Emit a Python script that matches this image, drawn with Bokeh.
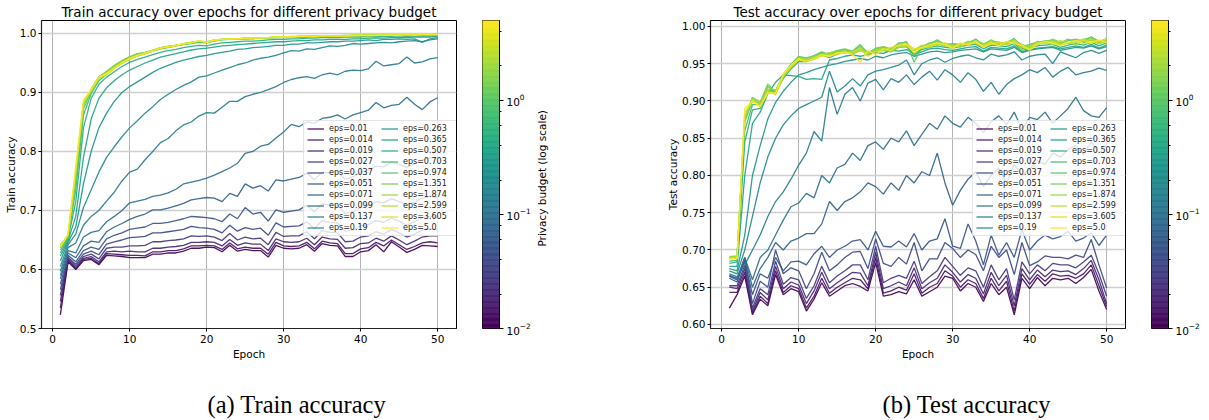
import math
from bokeh.plotting import figure
from bokeh.models import (LogTicker, Legend, LegendItem, Range1d, PrintfTickFormatter,
                          LinearAxis, FixedTicker, Title, CustomJSTickFormatter, LinearScale)
from bokeh.layouts import row
from bokeh.palettes import Viridis256
from bokeh.embed import file_html
from bokeh.resources import INLINE

FONT = "DejaVu Sans"

epochs = list(range(1, 51))
eps_values = [0.01, 0.014, 0.019, 0.027, 0.037, 0.051, 0.071, 0.099, 0.137, 0.19,
              0.263, 0.365, 0.507, 0.703, 0.974, 1.351, 1.874, 2.599, 3.605, 5.0]
eps_labels = ["eps=0.01", "eps=0.014", "eps=0.019", "eps=0.027", "eps=0.037",
              "eps=0.051", "eps=0.071", "eps=0.099", "eps=0.137", "eps=0.19",
              "eps=0.263", "eps=0.365", "eps=0.507", "eps=0.703", "eps=0.974",
              "eps=1.351", "eps=1.874", "eps=2.599", "eps=3.605", "eps=5.0"]
x_ticks = [0, 10, 20, 30, 40, 50]
train_y_ticks = [0.5, 0.6, 0.7, 0.8, 0.9, 1.0]
test_y_ticks = [0.60, 0.65, 0.70, 0.75, 0.80, 0.85, 0.90, 0.95, 1.00]

# ---- Train accuracy (per mille) ----
tr_001 = [523,613,600,615,617,608,624,623,622,620, 620,620,626,626,628,628,631,636,636,638,
          637,630,641,631,634,632,632,621,641,636, 635,636,642,631,644,641,640,622,622,630,
          632,642,630,647,638,629,634,641,640,639]
tr_0014 = [535,615,601,617,619,610,627,626,625,624, 624,623,630,630,632,632,635,640,640,641,
           640,634,645,635,638,636,636,626,646,640, 639,640,646,635,648,645,644,627,627,635,
           637,646,640,650,642,634,639,645,647,645]
tr_0019 = [546,617,603,619,622,613,630,631,630,631, 630,630,636,636,638,639,641,646,646,647,
           646,640,651,641,645,643,643,632,652,647, 646,647,653,642,655,652,651,636,637,644,
           645,653,648,657,650,642,648,655,657,657]
tr_0027 = [556,619,606,622,626,618,636,638,638,640, 640,641,647,647,649,650,652,657,656,657,
           655,649,661,650,655,652,653,642,663,656, 657,657,664,652,666,663,662,647,648,655,
           657,664,660,668,662,655,660,667,669,667]
tr_0037 = [566,621,609,626,631,625,643,647,650,654, 655,656,662,662,664,666,668,673,671,670,
           668,662,675,665,671,668,670,658,679,672, 673,674,681,669,683,680,679,665,667,674,
           676,683,680,687,682,675,681,688,690,688]
tr_0051 = [575,624,613,632,638,634,652,658,662,668, 670,672,678,678,680,683,686,690,689,688,
           686,681,694,686,705,694,697,682,701,697, 699,701,709,698,711,709,709,695,698,705,
           708,715,713,720,715,709,714,721,724,722]
tr_0071 = [584,628,620,640,648,646,664,672,678,685, 690,694,701,701,704,708,712,718,720,722,
           721,715,729,724,745,738,742,733,752,750, 753,756,763,752,765,764,766,753,757,765,
           768,775,774,782,778,773,779,786,789,790]
tr_0099 = [590,632,628,655,663,666,681,690,700,713, 716,719,724,726,730,736,745,748,751,755,
           760,766,772,780,797,800,809,812,823,833, 846,842,850,848,856,858,862,855,862,866,
           870,883,874,878,880,892,880,871,884,891]
tr_0137 = [597,637,645,675,690,700,716,731,750,765, 770,786,800,815,822,835,845,850,860,866,
           865,875,885,885,893,897,900,905,910,917, 922,925,927,924,930,933,930,936,938,937,
           940,953,945,947,949,960,950,952,957,959]
tr_019 = [605,642,660,705,735,765,790,808,825,840, 852,865,876,888,897,905,912,918,926,928,
          933,938,942,947,950,955,958,960,963,967, 971,970,974,973,976,979,978,980,983,982,
          983,984,985,984,986,987,988,986,989,991]
tr_0263 = [615,646,672,745,800,840,865,885,900,910, 918,926,934,941,946,951,955,958,961,963,
           966,968,970,973,974,976,977,978,980,980, 982,982,984,984,985,986,986,987,987,988,
           989,988,990,990,991,990,991,985,991,993]
tr_0365 = [623,649,690,790,855,890,908,920,930,938, 944,950,955,960,963,966,969,972,974,975,
           977,979,980,981,982,983,984,985,986,986, 987,988,988,989,989,990,990,990,991,991,
           992,992,992,993,993,993,994,994,994,995]
tr_0507 = [628,652,715,840,890,914,926,935,944,951, 956,960,964,968,971,973,976,978,980,979,
           982,984,985,986,987,987,988,989,990,990, 991,991,992,992,993,993,993,994,994,994,
           995,994,995,995,996,995,996,996,996,997]
tr_0703 = [633,654,735,862,898,920,931,941,950,957, 962,966,970,974,976,979,981,983,985,984,
           987,989,990,990,991,991,992,992,993,993, 993,994,994,995,994,995,995,995,996,996,
           996,996,997,997,997,996,997,997,998,998]
tr_0974 = [637,655,748,872,902,924,934,945,953,960, 965,968,972,976,978,980,982,985,986,986,
           988,990,990,991,991,992,993,993,993,994, 994,994,995,995,995,996,996,996,996,997,
           996,997,997,997,997,998,997,998,998,998]
tr_1351 = [640,656,758,878,905,926,936,946,954,961, 966,968,971,975,977,980,983,984,987,985,
           989,990,991,991,992,992,993,993,994,994, 994,995,995,995,996,996,996,996,997,997,
           997,997,997,998,997,998,998,998,998,998]
tr_1874 = [642,657,762,880,906,927,935,945,952,959, 964,967,971,975,978,980,982,985,987,985,
           989,990,991,991,992,993,993,993,994,994, 995,995,995,996,995,996,996,997,996,997,
           997,997,998,997,998,998,998,998,998,999]
tr_2599 = [641,658,765,882,904,924,933,942,949,956, 962,966,970,975,977,979,982,984,987,985,
           988,990,990,991,992,992,992,993,994,994, 994,995,995,996,996,996,996,996,997,997,
           997,997,997,998,998,998,998,998,998,998]
tr_3605 = [640,659,770,884,903,925,930,940,951,957, 962,966,970,976,978,979,982,985,987,986,
           988,990,990,991,991,993,992,993,993,994, 994,995,995,995,996,996,996,996,997,997,
           997,997,997,997,998,998,998,998,998,998]
tr_5 = [638,660,775,887,905,926,932,941,950,958, 963,967,971,975,977,980,983,984,988,985,
        989,990,991,991,992,992,993,993,994,994, 994,995,995,995,996,996,995,996,996,997,
        996,997,997,997,997,998,997,998,998,998]

# ---- Test accuracy (per mille) ----
te_001 = [622,640,665,613,634,625,667,640,648,644, 618,634,656,638,645,652,655,651,645,683,
          638,640,644,641,660,638,644,650,665,662, 645,655,650,631,655,640,650,613,662,648,
          663,652,662,660,662,655,663,674,645,620]
te_0014 = [643,643,670,615,638,628,672,643,652,648, 622,638,662,642,650,656,662,660,648,690,
           642,645,650,646,668,642,650,655,672,665, 650,660,655,635,662,645,658,618,668,654,
           667,658,668,665,666,662,668,680,652,624]
te_0019 = [650,648,675,618,643,633,678,648,657,653, 628,645,670,648,656,663,670,669,652,697,
           648,652,657,652,676,648,656,662,680,670, 657,667,662,641,670,652,666,625,675,660,
           673,664,673,671,672,667,675,686,660,628]
te_0027 = [652,652,680,622,648,640,685,654,663,660, 635,652,678,656,665,672,680,680,660,705,
           656,662,666,662,685,655,664,672,690,678, 666,676,672,650,680,660,675,633,684,668,
           680,672,682,680,680,676,684,693,668,638]
te_0037 = [662,657,688,628,658,650,700,668,676,672, 648,668,697,672,680,690,697,698,675,715,
           682,678,690,681,710,672,688,688,710,702, 690,700,694,672,705,690,700,667,710,679,
           684,692,690,690,688,693,690,714,680,649]
te_0051 = [665,660,685,640,668,662,690,672,684,685, 680,695,705,690,700,705,712,714,700,725,
           705,704,712,704,722,700,712,715,742,705, 702,735,712,680,720,693,710,690,727,700,
           712,720,715,718,725,712,716,723,706,720]
te_0071 = [666,662,690,650,675,690,710,700,712,716, 722,722,735,765,753,765,770,778,790,785,
           775,790,780,800,790,805,800,830,790,760, 780,795,805,785,800,810,790,815,800,808,
           820,815,830,825,835,840,828,845,830,840]
te_0099 = [665,660,690,660,690,700,720,740,758,763, 776,770,800,790,810,815,830,820,840,845,
           835,850,845,860,840,855,870,862,880,870, 865,878,870,858,872,880,868,885,862,878,
           875,885,870,880,890,905,887,880,878,891]
te_0137 = [668,664,680,700,720,745,765,778,795,814, 830,859,846,918,882,909,918,900,924,929,
           915,930,925,935,922,932,940,928,942,935, 925,938,929,913,925,909,922,930,935,942,
           938,945,932,940,945,935,938,940,944,941]
te_019 = [672,668,700,745,790,825,850,868,880,890, 895,900,905,940,912,920,930,920,935,940,
          942,945,948,955,935,950,955,958,952,957, 960,962,958,955,963,960,962,966,955,960,
          962,963,950,966,962,958,965,968,964,968]
te_0263 = [675,672,720,800,840,876,898,913,925,935, 938,942,945,948,950,953,955,957,955,960,
           958,962,964,965,960,963,966,967,965,966, 968,969,970,966,970,969,968,972,965,968,
           970,971,972,968,970,972,971,974,970,973]
te_0365 = [678,678,800,870,885,910,925,935,934,933, 929,930,929,955,957,960,962,960,963,965,
           964,968,967,969,963,966,970,971,969,968, 970,972,973,967,972,971,970,974,966,969,
           971,972,973,970,972,974,972,976,971,975]
te_0507 = [682,684,845,888,890,912,912,930,943,953, 953,956,962,958,963,966,963,968,962,966,
           968,966,972,973,962,969,972,974,972,971, 973,975,976,970,975,974,973,977,968,971,
           974,975,976,972,975,977,975,979,974,978]
te_0703 = [685,686,860,895,895,915,913,933,947,956, 955,958,965,961,966,968,965,970,963,968,
           970,968,974,976,960,971,974,977,974,974, 975,977,978,973,977,976,976,980,970,973,
           976,978,979,975,978,980,978,982,977,981]
te_0974 = [690,690,872,900,897,920,913,935,949,960, 957,961,966,962,967,969,966,974,965,970,
           972,969,978,978,952,972,976,982,975,977, 976,978,983,975,980,979,977,984,972,976,
           979,980,982,977,981,983,980,986,980,983]
te_1351 = [691,692,876,905,898,923,912,936,948,959, 958,960,964,964,968,970,967,976,962,971,
           973,970,976,980,962,973,978,980,977,976, 975,980,979,976,982,977,979,983,974,975,
           978,981,980,978,983,979,983,985,978,984]
te_1874 = [690,691,878,904,896,918,914,934,946,958, 956,959,962,965,966,968,965,972,963,969,
           971,968,977,975,967,974,976,979,975,973, 977,976,981,977,979,978,977,981,976,972,
           980,978,983,979,977,982,980,984,979,982]
te_2599 = [690,690,880,902,895,915,908,932,945,956, 955,958,963,962,962,967,963,968,964,967,
           970,966,972,974,968,975,972,977,974,975, 972,979,978,974,980,976,978,982,968,974,
           977,979,976,981,978,976,980,982,977,981]
te_3605 = [688,689,885,899,893,910,911,935,947,955, 954,956,960,961,965,964,966,970,960,966,
           968,972,974,977,970,971,973,976,978,972, 975,978,977,975,976,979,975,980,973,970,
           978,977,980,976,978,980,982,978,980,983]
te_5 = [688,688,890,900,892,912,910,936,948,957, 952,957,962,960,964,966,962,952,968,962,
        970,968,975,976,965,972,975,978,976,970, 978,975,980,972,978,974,980,977,975,968,
        976,980,978,974,979,981,977,979,982,978]

train_series = [tr_001, tr_0014, tr_0019, tr_0027, tr_0037, tr_0051, tr_0071, tr_0099,
                tr_0137, tr_019, tr_0263, tr_0365, tr_0507, tr_0703, tr_0974, tr_1351,
                tr_1874, tr_2599, tr_3605, tr_5]
test_series = [te_001, te_0014, te_0019, te_0027, te_0037, te_0051, te_0071, te_0099,
               te_0137, te_019, te_0263, te_0365, te_0507, te_0703, te_0974, te_1351,
               te_1874, te_2599, te_3605, te_5]

EPS_LO, EPS_HI = 0.01, 5.0
CB_LABEL = "Privacy budget (log scale)"
FRAME_W, FRAME_H, TOP, BOTTOM = 415, 308, 18, 84


def viridis_for(e):
    t = (math.log10(e) - math.log10(EPS_LO)) / (math.log10(EPS_HI) - math.log10(EPS_LO))
    return Viridis256[max(0, min(255, int(round(t * 255))))]


def make_panel(title, ylabel, series, y_lo, y_hi, y_ticks, y_fmt, caption, cap_offset,
               min_left):
    p = figure(frame_width=FRAME_W, frame_height=FRAME_H,
               x_range=Range1d(-1.45, 52.45), y_range=Range1d(y_lo, y_hi),
               output_backend="svg", toolbar_location=None,
               min_border_left=min_left, min_border_right=26,
               min_border_top=TOP, min_border_bottom=BOTTOM,
               background_fill_color="white", border_fill_color="white")
    p.title.text = title
    p.title.align = "center"
    p.title.text_font = FONT
    p.title.text_font_size = "13.5px"
    p.title.text_font_style = "normal"
    p.title.text_color = "#000000"
    p.title.standoff = 2
    p.outline_line_color = "black"
    p.outline_line_width = 1

    for ax in (p.xaxis[0], p.yaxis[0]):
        ax.major_label_text_font = FONT
        ax.major_label_text_font_size = "10.5px"
        ax.major_label_text_color = "#000000"
        ax.axis_label_text_font = FONT
        ax.axis_label_text_font_size = "10.5px"
        ax.axis_label_text_font_style = "normal"
        ax.axis_label_text_color = "#000000"
        ax.major_tick_out = 3
        ax.major_tick_in = 0
        ax.minor_tick_line_color = None
        ax.axis_line_color = "#222222"
        ax.axis_line_width = 1.2
    p.xaxis.ticker = x_ticks
    p.xaxis.formatter = PrintfTickFormatter(format="%d")
    p.xaxis.axis_label = "Epoch"
    p.xaxis.axis_label_standoff = 2
    p.xaxis.major_label_standoff = 3
    p.yaxis.ticker = y_ticks
    p.yaxis.formatter = PrintfTickFormatter(format=y_fmt)
    p.yaxis.axis_label = ylabel
    p.yaxis.axis_label_standoff = 0
    p.yaxis.major_label_standoff = 2

    p.xgrid.ticker = x_ticks
    p.ygrid.ticker = y_ticks
    p.xgrid.grid_line_color = "#b4b4b4"
    p.xgrid.grid_line_width = 1
    p.ygrid.grid_line_color = "#cfcfcf"
    p.ygrid.grid_line_width = 1.5

    items = []
    for e, lab, ys in zip(eps_values, eps_labels, series):
        r = p.line(epochs, [v / 1000 for v in ys], line_color=viridis_for(e),
                   line_width=1.3, line_alpha=0.92)
        items.append(LegendItem(label=lab, renderers=[r]))

    legend = Legend(items=items, location=(262, 92), ncols=2,
                    label_text_font=FONT, label_text_font_size="8px",
                    label_text_color="#222222",
                    glyph_width=17, glyph_height=9, label_height=9,
                    label_width=50, label_standoff=5, spacing=2,
                    padding=3, margin=0,
                    background_fill_color="white", background_fill_alpha=0.8,
                    border_line_color="#cccccc", border_line_width=1)
    p.add_layout(legend)

    cap = Title(text=caption, align="left", offset=cap_offset,
                text_font="Liberation Serif", text_font_size="24.5px",
                text_font_style="normal", text_color="#000000", standoff=52)
    p.add_layout(cap, "below")
    return p


def make_colorbar(min_right, label_standoff):
    """Log-scaled viridis colour bar drawn as a strip of quads on a log y axis."""
    f = figure(frame_width=17, frame_height=FRAME_H,
               x_range=Range1d(0, 1), y_range=Range1d(EPS_LO, EPS_HI),
               y_axis_type="log", y_axis_location="right", x_axis_location=None,
               output_backend="svg", toolbar_location=None,
               min_border_left=0, min_border_right=min_right,
               min_border_top=TOP, min_border_bottom=BOTTOM,
               background_fill_color="white", border_fill_color="white")
    f.outline_line_color = "black"
    f.outline_line_width = 1
    f.xgrid.visible = False
    f.ygrid.visible = False
    n = len(Viridis256)
    lo, hi = math.log10(EPS_LO), math.log10(EPS_HI)
    bottoms = [10 ** (lo + (hi - lo) * i / n) for i in range(n)]
    tops = [10 ** (lo + (hi - lo) * (i + 1) / n) for i in range(n)]
    cols = list(Viridis256)
    f.quad(left=0, right=1, bottom=bottoms, top=tops, fill_color=cols,
           line_color=cols, line_width=0.6)

    ax = f.yaxis[0]
    ax.ticker = LogTicker()
    ax.major_label_text_font = FONT
    ax.major_label_text_font_size = "10.5px"
    ax.major_label_text_color = "#000000"
    ax.major_tick_line_color = "black"
    ax.major_tick_out = 4
    ax.major_tick_in = 0
    ax.minor_tick_line_color = "black"
    ax.minor_tick_out = 2
    ax.minor_tick_in = 0
    ax.axis_line_color = "black"
    ax.major_label_standoff = 3

    # caption: one rotated tick label (bottom-to-top) on a tick-less outer axis,
    # on its own linear scale so the anchor sits where the text should start
    f.extra_y_ranges = {"cbl": Range1d(0, 1000)}
    f.extra_y_scales = {"cbl": LinearScale()}
    lab_ax = LinearAxis(y_range_name="cbl", ticker=FixedTicker(ticks=[266]),
                        formatter=CustomJSTickFormatter(code='return "%s";' % CB_LABEL),
                        major_label_orientation=math.pi / 2,
                        axis_line_color=None, major_tick_line_color=None,
                        minor_tick_line_color=None, major_tick_out=0, major_tick_in=0,
                        major_label_standoff=label_standoff,
                        major_label_text_font=FONT, major_label_text_font_size="10.5px",
                        major_label_text_color="#000000")
    f.add_layout(lab_ax, "right")
    return f


# page x (reference px) minus the 8px body margin gives each figure's canvas position
p_train = make_panel("Train accuracy over epochs for different privacy budget",
                     "Train accuracy", train_series, 0.5, 1.022, train_y_ticks, "%.1f",
                     "(a) Train accuracy", 166, 41)
cb_train = make_colorbar(140, 9)
p_test = make_panel("Test accuracy over epochs for different privacy budget",
                    "Test accuracy", test_series, 0.5946, 1.008, test_y_ticks, "%.2f",
                    "(b) Test accuracy", 172, 71)
cb_test = make_colorbar(0, 13)

layout = row(p_train, cb_train, p_test, cb_test)
open("out.html", "w").write(file_html(layout, INLINE))
